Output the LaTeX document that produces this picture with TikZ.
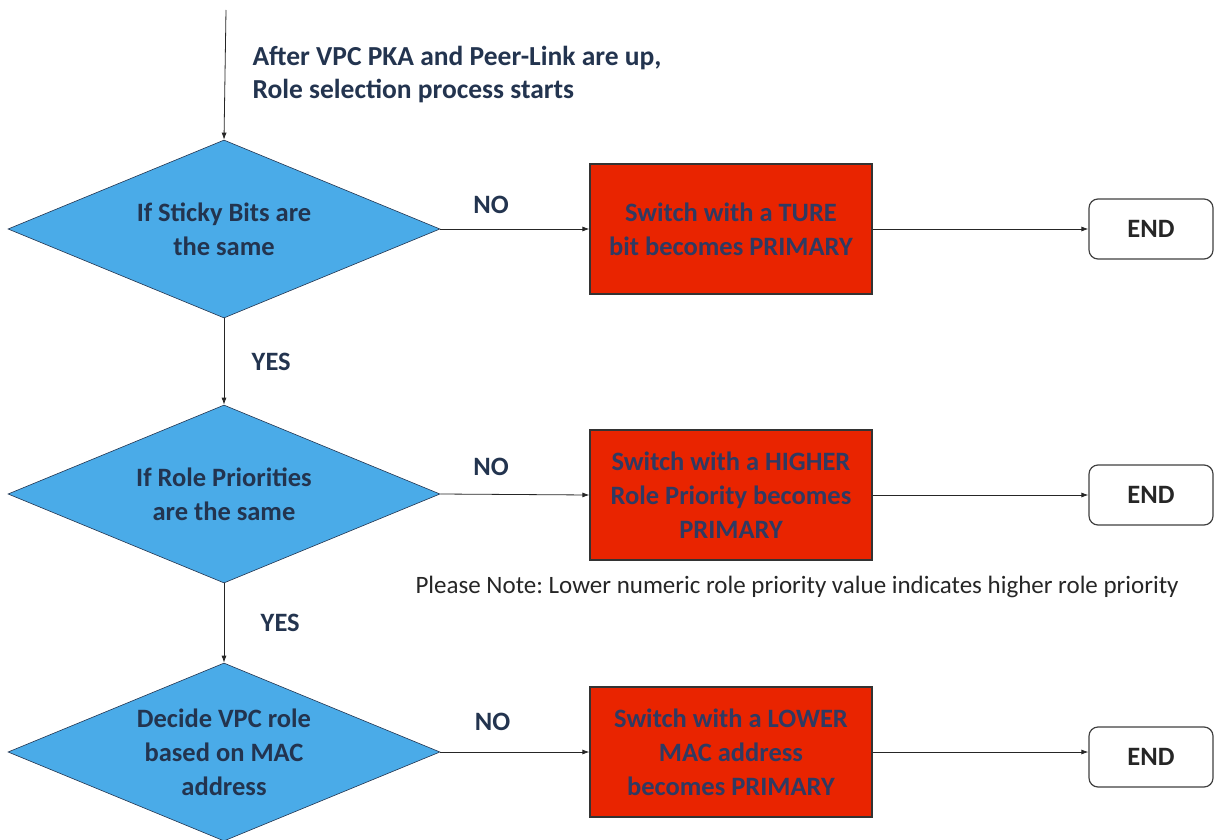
\documentclass[tikz,border=0pt]{standalone}
\usepackage{fontspec}
\setmainfont{Carlito}
\usepackage{tikz}
\usetikzlibrary{arrows.meta, shapes.geometric, positioning}
\definecolor{diamondblue}{HTML}{4AABE8}
\definecolor{boxred}{HTML}{E92400}
\definecolor{inkblue}{HTML}{23344F}
\definecolor{redink}{HTML}{2F3A62}
\frenchspacing

\begin{document}
\begin{tikzpicture}[%
    x=1pt, y=-1pt,
    every node/.style={font=\fontsize{26.5}{34}\selectfont\bfseries},
    decision/.style={
      diamond,
      shape aspect=2.4,
      draw=inkblue,
      fill=diamondblue,
      line width=0.6pt,
      text=inkblue,
      align=center,
      inner sep=0pt,
      minimum width=432pt,
      minimum height=178pt
    },
    outcome/.style={
      rectangle,
      draw=black!80,
      fill=boxred,
      line width=1.2pt,
      text=redink,
      align=center,
      minimum width=282pt,
      minimum height=130pt
    },
    terminal/.style={
      rectangle,
      rounded corners=9pt,
      draw=black!75,
      line width=1.2pt,
      fill=white,
      text=black!85,
      minimum width=124pt,
      minimum height=60pt
    },
    answer/.style={text=inkblue},
    flow/.style={-{Latex[length=7pt,width=5pt]}, line width=0.8pt, black!85}
    ]
    \useasboundingbox (0,0) rectangle (1215,840);

    \coordinate (start) at (226,10);
    \node[align=left, text=inkblue, anchor=west,
          font=\fontsize{27.5}{33}\selectfont\bfseries] (intro) at (249,75)
        {After VPC PKA and Peer-Link are up,\\Role selection process starts};

    % decisions
    \node[decision] (sticky) at (224,229) {If Sticky Bits are\\the same};
    \node[decision] (prio) at (224,494) {If Role Priorities\\are the same};
    \node[decision] (mac) at (224,752) {Decide VPC role\\based on MAC\\address};

    % results
    \node[outcome] (true) at (731,229) {Switch with a TURE\\bit becomes PRIMARY};
    \node[outcome] (higher) at (731,495) {Switch with a HIGHER\\Role Priority becomes\\PRIMARY};
    \node[outcome] (lower) at (731,752) {Switch with a LOWER\\MAC address\\becomes PRIMARY};

    \node[terminal] (end1) at (1151,229) {END};
    \node[terminal] (end2) at (1151,495) {END};
    \node[terminal] (end3) at (1151,757) {END};

    \node[text=black!85, font=\fontsize{25}{30}\selectfont] (note) at (797,587)
        {Please Note: Lower numeric role priority value indicates higher role priority};

    % connectors
    \draw[flow] (start) -- (sticky.north);
    \draw[flow] (sticky.south) -- node[answer, right=24pt] {YES} (prio.north);
    \draw[flow] (prio.south) -- node[answer, right=33pt, pos=0.5] {YES} (mac.north);

    \draw[flow] (sticky.east) -- node[answer, above=12pt, pos=0.34] {NO} (true.west);
    \draw[flow] (prio.east) -- node[answer, above=15pt, pos=0.34] {NO} (higher.west);
    \draw[flow] (mac.east) -- node[answer, above=18pt, pos=0.35] {NO} (lower.west);

    \draw[flow] (true.east) -- (true.east -| end1.west);
    \draw[flow] (higher.east) -- (higher.east -| end2.west);
    \draw[flow] (lower.east) -- (lower.east -| end3.west);
\end{tikzpicture}
\end{document}
